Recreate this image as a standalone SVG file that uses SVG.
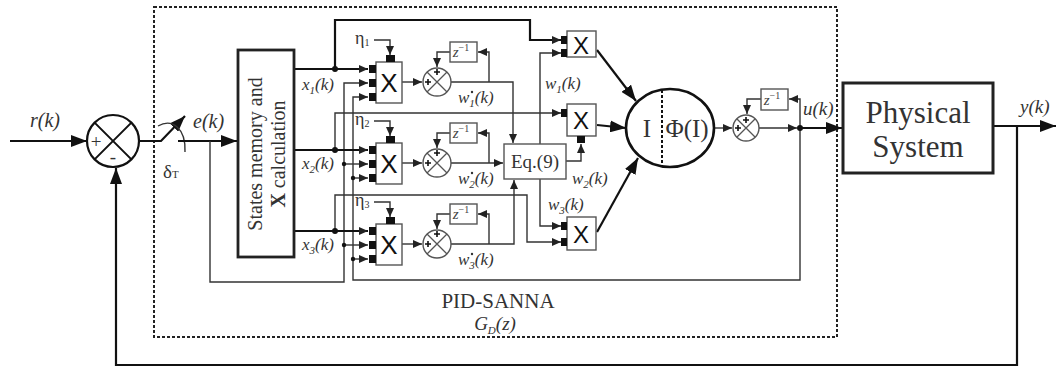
<svg xmlns="http://www.w3.org/2000/svg" width="1057" height="367" viewBox="0 0 1057 367">
<style>
.thk{fill:none;stroke:#111;stroke-width:2.2}
.thn{fill:none;stroke:#333;stroke-width:1.4}
.box{fill:#fff;stroke:#555;stroke-width:1.4}
.sq{fill:#111}
.dot{fill:#111}
.it{font-family:"Liberation Serif",serif;font-style:italic;fill:#333}
.rm{font-family:"Liberation Serif",serif;fill:#333}
.mx{font-family:"Liberation Sans",sans-serif;fill:#111;text-anchor:middle}
.z{font-family:"Liberation Serif",serif;font-style:italic;fill:#444;text-anchor:middle}
</style>
<defs>
<marker id="a" markerUnits="userSpaceOnUse" markerWidth="9" markerHeight="8" refX="9" refY="4" orient="auto"><path d="M0,0 L9,4 L0,8 z" fill="#222"/></marker>
<marker id="A" markerUnits="userSpaceOnUse" markerWidth="16" markerHeight="12" refX="16" refY="6" orient="auto"><path d="M0,0 L16,6 L0,12 z" fill="#111"/></marker>
</defs>
<rect x="154" y="7" width="683" height="330" fill="none" stroke="#222" stroke-width="2" stroke-dasharray="3,2"/>
<g id="connectors">
<polyline class="thk" points="10,141 87,141" marker-end="url(#A)"/>
<polyline class="thk" points="139,141 161,141 185,116" marker-end="url(#A)"/>
<path class="thn" d="M158,126 C172,118 186,128 185,152"/>
<polyline class="thk" points="178,141 237,141" marker-end="url(#A)"/>
<polyline class="thn" points="210,141 210,282 344,282 344,83 368,83" marker-end="url(#a)"/>
<polyline class="thn" points="344,164 368,164" marker-end="url(#a)"/>
<polyline class="thn" points="344,245 368,245" marker-end="url(#a)"/>
<polyline class="thn" points="800,128 800,280 353,280 353,97 368,97" marker-end="url(#a)"/>
<polyline class="thn" points="353,178 368,178" marker-end="url(#a)"/>
<polyline class="thn" points="353,259 368,259" marker-end="url(#a)"/>
<circle class="dot" cx="344" cy="164" r="2.2"/><circle class="dot" cx="344" cy="245" r="2.2"/>
<circle class="dot" cx="353" cy="178" r="2.2"/><circle class="dot" cx="353" cy="259" r="2.2"/>
<polyline class="thk" points="294,69 368,69" marker-end="url(#a)"/>
<polyline class="thk" points="294,150 368,150" marker-end="url(#a)"/>
<polyline class="thk" points="294,231 368,231" marker-end="url(#a)"/>
<polyline class="thk" points="335,69 335,20 530,20 530,40 561,40" marker-end="url(#a)"/>
<polyline class="thn" points="335,150 335,113 561,113" marker-end="url(#a)"/>
<polyline class="thn" points="335,231 335,195 527,195 527,242 561,242" marker-end="url(#a)"/>
<circle class="dot" cx="335" cy="69" r="3"/><circle class="dot" cx="335" cy="150" r="3"/><circle class="dot" cx="335" cy="231" r="3"/>
<polyline class="thn" points="374,40 390,40 390,55" marker-end="url(#a)"/>
<polyline class="thn" points="374,121 390,121 390,136" marker-end="url(#a)"/>
<polyline class="thn" points="374,202 390,202 390,217" marker-end="url(#a)"/>
<polyline class="thn" points="402,82 422,82" marker-end="url(#a)"/>
<polyline class="thn" points="402,163 422,163" marker-end="url(#a)"/>
<polyline class="thn" points="402,244 422,244" marker-end="url(#a)"/>
<polyline class="thn" points="451,82 513,82 513,143" marker-end="url(#a)"/>
<polyline class="thn" points="451,163 503,163" marker-end="url(#a)"/>
<polyline class="thn" points="451,244 514,244 514,180" marker-end="url(#a)"/>
<polyline class="thn" points="489,82 489,52 478,52" marker-end="url(#a)"/>
<polyline class="thn" points="450,52 437,52 437,67" marker-end="url(#a)"/>
<polyline class="thn" points="489,163 489,133 478,133" marker-end="url(#a)"/>
<polyline class="thn" points="450,133 437,133 437,148" marker-end="url(#a)"/>
<polyline class="thn" points="489,244 489,214 478,214" marker-end="url(#a)"/>
<polyline class="thn" points="450,214 437,214 437,229" marker-end="url(#a)"/>
<polyline class="thn" points="540,144 540,53 561,53" marker-end="url(#a)"/>
<polyline class="thn" points="566,161 581,161 581,144" marker-end="url(#a)"/>
<polyline class="thn" points="540,179 540,226 561,226" marker-end="url(#a)"/>
<line class="thk" x1="597" y1="50" x2="636" y2="101" marker-end="url(#A)"/>
<line class="thk" x1="597" y1="125" x2="626" y2="128" marker-end="url(#A)"/>
<line class="thk" x1="597" y1="232" x2="638" y2="158" marker-end="url(#A)"/>
<polyline class="thn" points="714,128 732,128" marker-end="url(#a)"/>
<polyline class="thn" points="759,128 797,128" marker-end="url(#a)"/>
<polyline class="thn" points="800,128 800,99 789,99" marker-end="url(#a)"/>
<polyline class="thn" points="761,99 747,99 747,114" marker-end="url(#a)"/>
<circle class="dot" cx="800" cy="128" r="3"/>
<polyline class="thk" points="800,128 842,128" marker-end="url(#A)"/>
<polyline class="thk" points="993,126 1056,126" marker-end="url(#A)"/>
<polyline class="thk" points="1017,126 1017,365 116,365 116,168" marker-end="url(#A)"/>
</g>
<g id="sum0">
<circle cx="113" cy="141" r="26" fill="#fff" stroke="#111" stroke-width="2.2"/>
<path d="M94.6,122.6 L131.4,159.4 M131.4,122.6 L94.6,159.4" stroke="#111" stroke-width="2"/>
<text x="96" y="148" class="rm" font-size="19" text-anchor="middle" fill="#111">+</text>
<text x="113" y="163" class="rm" font-size="19" text-anchor="middle" fill="#111">-</text>
</g>
<g id="labels-main">
<text x="30" y="127" class="it" font-size="20">r(k)</text>
<text x="193" y="128" class="it" font-size="20">e(k)</text>
<text x="163" y="178" class="rm" font-size="19">δ<tspan font-size="11">T</tspan></text>
<text x="302" y="90" class="it" font-size="17">x<tspan font-size="11" dy="4">1</tspan><tspan dy="-4">(k)</tspan></text>
<text x="302" y="169" class="it" font-size="17">x<tspan font-size="11" dy="4">2</tspan><tspan dy="-4">(k)</tspan></text>
<text x="302" y="250" class="it" font-size="17">x<tspan font-size="11" dy="4">3</tspan><tspan dy="-4">(k)</tspan></text>
<text x="545" y="89" class="it" font-size="17">w<tspan font-size="11" dy="4">1</tspan><tspan dy="-4">(k)</tspan></text>
<text x="572" y="184" class="it" font-size="17">w<tspan font-size="11" dy="4">2</tspan><tspan dy="-4">(k)</tspan></text>
<text x="548" y="210" class="it" font-size="17">w<tspan font-size="11" dy="4">3</tspan><tspan dy="-4">(k)</tspan></text>
<text x="458" y="103" class="it" font-size="17">w<tspan font-size="11" dy="4">1</tspan><tspan dy="-4">(k)</tspan></text>
<text x="458" y="184" class="it" font-size="17">w<tspan font-size="11" dy="4">2</tspan><tspan dy="-4">(k)</tspan></text>
<text x="458" y="265" class="it" font-size="17">w<tspan font-size="11" dy="4">3</tspan><tspan dy="-4">(k)</tspan></text>
<circle cx="472" cy="92" r="1.2" fill="#333"/><circle cx="472" cy="173" r="1.2" fill="#333"/><circle cx="472" cy="254" r="1.2" fill="#333"/>
<text x="803" y="115" class="it" font-size="19">u(k)</text>
<text x="1020" y="113" class="it" font-size="19">y(k)</text>
<text x="498" y="308" class="rm" font-size="21" text-anchor="middle">PID-SANNA</text>
<text x="495" y="330" class="it" font-size="19" text-anchor="middle">G<tspan font-size="11" dy="4">D</tspan><tspan dy="-4">(z)</tspan></text>
</g>
<g id="states">
<rect x="238" y="50" width="56" height="207" fill="#fff" stroke="#222" stroke-width="2.8"/>
<text x="262" y="154" class="rm" font-size="20" text-anchor="middle" transform="rotate(-90 262 154)">States memory and</text>
<text x="285" y="154" class="rm" font-size="20" text-anchor="middle" transform="rotate(-90 285 154)"><tspan font-weight="bold">X</tspan> calculation</text>
</g>
<g id="mult1">
<rect class="box" x="376" y="62" width="26" height="41"/>
<text class="mx" x="389" y="92" font-size="26">X</text>
<rect class="sq" x="369" y="65" width="7" height="8"/><rect class="sq" x="369" y="79" width="7" height="8"/><rect class="sq" x="369" y="93" width="7" height="8"/>
<rect class="sq" x="386" y="55" width="9" height="7"/>
<text x="355" y="44" class="rm" font-size="18">η<tspan font-size="10" dy="2">1</tspan></text>
</g>
<g id="mult2">
<rect class="box" x="376" y="143" width="26" height="41"/>
<text class="mx" x="389" y="173" font-size="26">X</text>
<rect class="sq" x="369" y="146" width="7" height="8"/><rect class="sq" x="369" y="160" width="7" height="8"/><rect class="sq" x="369" y="174" width="7" height="8"/>
<rect class="sq" x="386" y="136" width="9" height="7"/>
<text x="355" y="125" class="rm" font-size="18">η<tspan font-size="10" dy="2">2</tspan></text>
</g>
<g id="mult3">
<rect class="box" x="376" y="224" width="26" height="41"/>
<text class="mx" x="389" y="254" font-size="26">X</text>
<rect class="sq" x="369" y="227" width="7" height="8"/><rect class="sq" x="369" y="241" width="7" height="8"/><rect class="sq" x="369" y="255" width="7" height="8"/>
<rect class="sq" x="386" y="217" width="9" height="7"/>
<text x="355" y="206" class="rm" font-size="18">η<tspan font-size="10" dy="2">3</tspan></text>
</g>
<g id="sum1">
<circle class="box" cx="437" cy="82" r="14"/>
<path d="M427,72 L447,92 M447,72 L427,92" stroke="#555" stroke-width="1.3"/>
<path d="M437,69 v6 M434,72 h6 M428,79 v6 M425,82 h6" stroke="#111" stroke-width="1.6"/>
</g>
<g id="sum2">
<circle class="box" cx="437" cy="163" r="14"/>
<path d="M427,153 L447,173 M447,153 L427,173" stroke="#555" stroke-width="1.3"/>
<path d="M437,150 v6 M434,153 h6 M428,160 v6 M425,163 h6" stroke="#111" stroke-width="1.6"/>
</g>
<g id="sum3">
<circle class="box" cx="437" cy="244" r="14"/>
<path d="M427,234 L447,254 M447,234 L427,254" stroke="#555" stroke-width="1.3"/>
<path d="M437,231 v6 M434,234 h6 M428,241 v6 M425,244 h6" stroke="#111" stroke-width="1.6"/>
</g>
<g id="z1"><rect class="box" x="450" y="42" width="27" height="20"/><text class="z" x="461" y="57" font-size="15">z<tspan font-size="10" dy="-6" font-style="normal">−1</tspan></text></g>
<g id="z2"><rect class="box" x="450" y="123" width="27" height="20"/><text class="z" x="461" y="138" font-size="15">z<tspan font-size="10" dy="-6" font-style="normal">−1</tspan></text></g>
<g id="z3"><rect class="box" x="450" y="204" width="27" height="20"/><text class="z" x="461" y="219" font-size="15">z<tspan font-size="10" dy="-6" font-style="normal">−1</tspan></text></g>
<g id="eq9">
<rect class="box" x="504" y="144" width="62" height="35"/>
<text x="535" y="168" class="rm" font-size="19" text-anchor="middle">Eq.(9)</text>
</g>
<g id="multA">
<rect class="box" x="567" y="31" width="29" height="26"/>
<text class="mx" x="581" y="54" font-size="24">X</text>
<rect class="sq" x="561" y="36" width="6" height="8"/><rect class="sq" x="561" y="49" width="6" height="8"/>
</g>
<g id="multB">
<rect class="box" x="567" y="104" width="29" height="32"/>
<text class="mx" x="581" y="129" font-size="24">X</text>
<rect class="sq" x="561" y="109" width="6" height="8"/><rect class="sq" x="577" y="136" width="8" height="7"/>
</g>
<g id="multC">
<rect class="box" x="567" y="217" width="29" height="33"/>
<text class="mx" x="581" y="243" font-size="24">X</text>
<rect class="sq" x="561" y="222" width="6" height="8"/><rect class="sq" x="561" y="238" width="6" height="8"/>
</g>
<g id="neuron">
<ellipse cx="670" cy="128" rx="44" ry="39" fill="#fff" stroke="#111" stroke-width="2.6"/>
<line x1="662" y1="90" x2="662" y2="166" stroke="#111" stroke-width="2" stroke-dasharray="3,2"/>
<text x="647" y="137" class="rm" font-size="25" text-anchor="middle">I</text>
<text x="687" y="137" class="rm" font-size="25" text-anchor="middle">Φ(I)</text>
</g>
<g id="sumOut">
<circle class="box" cx="746" cy="128" r="13"/>
<path d="M737,119 L755,137 M755,119 L737,137" stroke="#555" stroke-width="1.3"/>
<path d="M746,117 v6 M743,120 h6 M738,125 v6 M735,128 h6" stroke="#111" stroke-width="1.6"/>
</g>
<g id="zOut"><rect class="box" x="761" y="89" width="27" height="21"/><text class="z" x="772" y="105" font-size="15">z<tspan font-size="10" dy="-6" font-style="normal">−1</tspan></text></g>
<g id="plant">
<rect x="843" y="83" width="150" height="90" fill="#fff" stroke="#222" stroke-width="3"/>
<text x="918" y="123" class="rm" font-size="31" text-anchor="middle">Physical</text>
<text x="918" y="157" class="rm" font-size="31" text-anchor="middle">System</text>
</g>
</svg>
